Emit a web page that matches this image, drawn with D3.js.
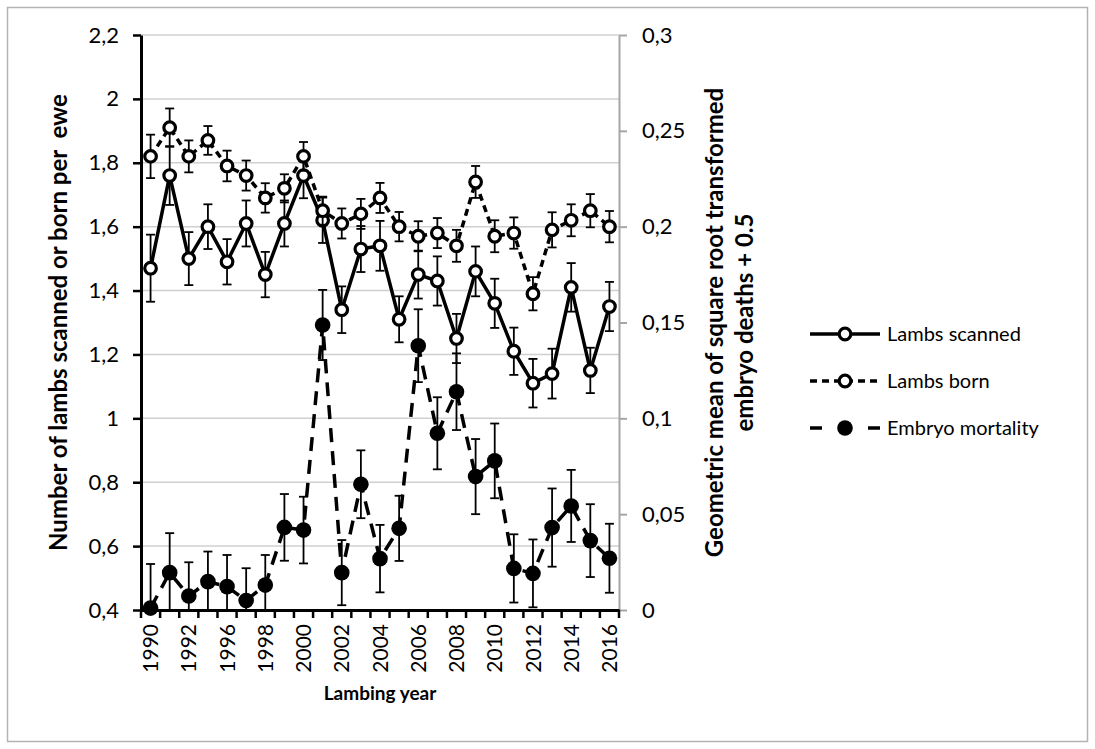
<!DOCTYPE html>
<html>
<head>
<meta charset="utf-8">
<script src="https://cdn.jsdelivr.net/npm/d3@7"></script>
<style>
  body { margin: 0; background: #fff; }
  svg { display: block; }
  text { font-family: Lato, "Open Sans", sans-serif; fill: #000; }
</style>
</head>
<body>
<svg id="chart" width="1095" height="749"></svg>
<script>
// Lambing years recorded (two seasons are absent from the record)
const years = [1990, 1991, 1992, 1994, 1996, 1997, 1998, 1999, 2000, 2001, 2002, 2003,
               2004, 2005, 2006, 2007, 2008, 2009, 2010, 2011, 2012, 2013, 2014, 2015, 2016];

// Lambs scanned per ewe (mean and standard error)
const scanned    = [1.47, 1.76, 1.50, 1.60, 1.49, 1.61, 1.45, 1.61, 1.76, 1.62, 1.34, 1.53,
                    1.54, 1.31, 1.45, 1.43, 1.25, 1.46, 1.36, 1.21, 1.11, 1.14, 1.41, 1.15, 1.35];
const scannedErr = [0.105, 0.092, 0.083, 0.070, 0.071, 0.072, 0.071, 0.072, 0.071, 0.071, 0.073, 0.072,
                    0.078, 0.072, 0.075, 0.077, 0.077, 0.078, 0.077, 0.074, 0.076, 0.078, 0.076, 0.071, 0.077];

// Lambs born per ewe (mean and standard error)
const born    = [1.82, 1.91, 1.82, 1.87, 1.79, 1.76, 1.69, 1.72, 1.82, 1.65, 1.61, 1.64,
                 1.69, 1.60, 1.57, 1.58, 1.54, 1.74, 1.57, 1.58, 1.39, 1.59, 1.62, 1.65, 1.60];
const bornErr = [0.068, 0.060, 0.050, 0.045, 0.048, 0.047, 0.046, 0.044, 0.045, 0.044, 0.047, 0.047,
                 0.047, 0.046, 0.047, 0.047, 0.050, 0.050, 0.050, 0.049, 0.052, 0.055, 0.050, 0.052, 0.049];

// Embryo mortality (secondary axis), geometric mean and standard error
const embryo    = [0.001, 0.0195, 0.0073, 0.0148, 0.0122, 0.0049, 0.013, 0.0431, 0.0417, 0.1487, 0.0195, 0.0656,
                   0.0268, 0.0426, 0.1379, 0.0922, 0.1139, 0.0696, 0.0778, 0.0217, 0.0191, 0.0430, 0.0543, 0.0362, 0.0270];
const embryoErr = [0.023, 0.0206, 0.0176, 0.0157, 0.0165, 0.0169, 0.0157, 0.0174, 0.0174, 0.0183, 0.017, 0.0177,
                   0.0176, 0.017, 0.019, 0.0188, 0.020, 0.0196, 0.0195, 0.0178, 0.0177, 0.0204, 0.0188, 0.019, 0.018];

// Axis ticks
const leftTicks  = [0.4, 0.6, 0.8, 1.0, 1.2, 1.4, 1.6, 1.8, 2.0, 2.2];
const rightTicks = [0, 0.05, 0.1, 0.15, 0.2, 0.25, 0.3];
const labelledYears = years.filter((d, i) => i % 2 === 0);

const seriesNames = ["Lambs scanned", "Lambs born", "Embryo mortality"];

const svg = d3.select("#chart");
const W = 1095, H = 749;
const plot = { left: 141, right: 619, top: 35, bottom: 610 };

// Outer chart frame
svg.append("rect")
  .attr("x", 7.5).attr("y", 7.5)
  .attr("width", W - 15).attr("height", H - 15)
  .attr("fill", "#fff").attr("stroke", "#b3b3b3").attr("stroke-width", 1.5);

const x  = d3.scaleBand().domain(years).range([plot.left, plot.right]);
const yL = d3.scaleLinear().domain([0.4, 2.2]).range([plot.bottom, plot.top]);
const yR = d3.scaleLinear().domain([0, 0.3]).range([plot.bottom, plot.top]);
const cx = d => x(d) + x.bandwidth() / 2;

const locale = d3.formatLocale({ decimal: ",", thousands: " ", grouping: [3], currency: ["", ""] });
const fmt = locale.format(".2~f");

// Horizontal gridlines at the primary ticks
svg.append("g").selectAll("line").data(leftTicks).join("line")
  .attr("x1", plot.left).attr("x2", plot.right)
  .attr("y1", d => yL(d)).attr("y2", d => yL(d))
  .attr("stroke", "#d0d0d0").attr("stroke-width", 1.5);

// Clip region for error bars
svg.append("defs").append("clipPath").attr("id", "plotClip")
  .append("rect").attr("x", plot.left - 10).attr("y", plot.top)
  .attr("width", plot.right - plot.left + 20).attr("height", plot.bottom - plot.top);

// Right (secondary) axis
const rightAxis = svg.append("g")
  .attr("transform", `translate(${plot.right},0)`)
  .call(d3.axisRight(yR).tickValues(rightTicks).tickFormat(fmt).tickSize(8).tickSizeOuter(0).tickPadding(15));
rightAxis.select(".domain").attr("stroke", "#a6a6a6").attr("stroke-width", 2);
rightAxis.selectAll(".tick line").attr("stroke", "#a6a6a6").attr("stroke-width", 2);
rightAxis.selectAll(".tick text").style("font-size", "22px").attr("fill", "#000");

function drawSeries(values, errs, yScale, opts) {
  const g = svg.append("g");
  const line = d3.line().x((d, i) => cx(years[i])).y(d => yScale(d));
  g.append("path").datum(values)
    .attr("d", line)
    .attr("fill", "none").attr("stroke", "#000").attr("stroke-width", 3.5)
    .attr("stroke-dasharray", opts.dash || null)
    .attr("stroke-linejoin", "round");
  const eb = g.append("g").attr("clip-path", "url(#plotClip)")
    .selectAll("g").data(values).join("g")
    .attr("stroke", "#000").attr("stroke-width", 1.8);
  eb.append("line")
    .attr("x1", (d, i) => cx(years[i])).attr("x2", (d, i) => cx(years[i]))
    .attr("y1", (d, i) => yScale(d - errs[i])).attr("y2", (d, i) => yScale(d + errs[i]));
  eb.append("line")
    .attr("x1", (d, i) => cx(years[i]) - 4.5).attr("x2", (d, i) => cx(years[i]) + 4.5)
    .attr("y1", (d, i) => yScale(d + errs[i])).attr("y2", (d, i) => yScale(d + errs[i]));
  eb.append("line")
    .attr("x1", (d, i) => cx(years[i]) - 4.5).attr("x2", (d, i) => cx(years[i]) + 4.5)
    .attr("y1", (d, i) => yScale(d - errs[i])).attr("y2", (d, i) => yScale(d - errs[i]));
  g.append("g").selectAll("circle").data(values).join("circle")
    .attr("cx", (d, i) => cx(years[i])).attr("cy", d => yScale(d))
    .attr("r", opts.filled ? 7.8 : 5.8)
    .attr("fill", opts.filled ? "#000" : "#fff")
    .attr("stroke", "#000").attr("stroke-width", opts.filled ? 0 : 3.2);
}

drawSeries(scanned, scannedErr, yL, { dash: null, filled: false });
drawSeries(born, bornErr, yL, { dash: "7,5", filled: false });
drawSeries(embryo, embryoErr, yR, { dash: "14,9", filled: true });

// Left (primary) axis
const leftAxis = svg.append("g")
  .attr("transform", `translate(${plot.left},0)`)
  .call(d3.axisLeft(yL).tickValues(leftTicks).tickFormat(fmt).tickSize(8).tickSizeOuter(0).tickPadding(14));
leftAxis.select(".domain").attr("stroke", "#000").attr("stroke-width", 3);
leftAxis.selectAll(".tick line").attr("stroke", "#000").attr("stroke-width", 2.5);
leftAxis.selectAll(".tick text").style("font-size", "22px").attr("fill", "#000");

// Bottom category axis: ticks at category boundaries, labels on every other year
const bottomAxis = svg.append("g")
  .attr("transform", `translate(0,${plot.bottom})`)
  .call(d3.axisBottom(x).tickValues(labelledYears).tickSize(0).tickSizeOuter(0));
bottomAxis.select(".domain").attr("stroke", "#000").attr("stroke-width", 3);
bottomAxis.selectAll(".tick text")
  .style("font-size", "21px").attr("fill", "#000")
  .attr("transform", "rotate(-90)")
  .attr("text-anchor", "end")
  .attr("x", -14).attr("y", 0).attr("dy", "0.36em");
const boundaries = years.map(d => x(d)).concat([x.range()[1]]);
bottomAxis.append("g").selectAll("line").data(boundaries).join("line")
  .attr("x1", d => d).attr("x2", d => d)
  .attr("y1", 0).attr("y2", 8)
  .attr("stroke", "#000").attr("stroke-width", 2.5);

// Axis titles
const midY = (plot.top + plot.bottom) / 2;
svg.append("text")
  .attr("transform", `translate(67,${midY}) rotate(-90)`)
  .attr("text-anchor", "middle")
  .style("font-size", "24px").style("font-weight", "bold")
  .style("white-space", "pre")
  .text("Number of lambs scanned or born per  ewe");

svg.append("text")
  .attr("transform", `translate(723,${midY}) rotate(-90)`)
  .attr("text-anchor", "middle")
  .style("font-size", "24px").style("font-weight", "bold")
  .text("Geometric mean of square root transformed");
svg.append("text")
  .attr("transform", `translate(753,${midY}) rotate(-90)`)
  .attr("text-anchor", "middle")
  .style("font-size", "24px").style("font-weight", "bold")
  .text("embryo deaths + 0.5");

svg.append("text")
  .attr("x", (plot.left + plot.right) / 2).attr("y", 700)
  .attr("text-anchor", "middle")
  .style("font-size", "19px").style("font-weight", "bold")
  .text("Lambing year");

// Legend
const legend = svg.append("g");
const legY = [334, 381, 428];
const lx0 = 810, lx1 = 880, lmx = 845;
// solid
legend.append("line").attr("x1", lx0).attr("x2", lx1).attr("y1", legY[0]).attr("y2", legY[0])
  .attr("stroke", "#000").attr("stroke-width", 3.5);
legend.append("circle").attr("cx", lmx).attr("cy", legY[0]).attr("r", 5.8)
  .attr("fill", "#fff").attr("stroke", "#000").attr("stroke-width", 3.2);
// short dashes
legend.append("line").attr("x1", lx0).attr("x2", lx1).attr("y1", legY[1]).attr("y2", legY[1])
  .attr("stroke", "#000").attr("stroke-width", 3.5).attr("stroke-dasharray", "7,5");
legend.append("circle").attr("cx", lmx).attr("cy", legY[1]).attr("r", 5.8)
  .attr("fill", "#fff").attr("stroke", "#000").attr("stroke-width", 3.2);
// long dashes
legend.append("line").attr("x1", lx0).attr("x2", lx0 + 12).attr("y1", legY[2]).attr("y2", legY[2])
  .attr("stroke", "#000").attr("stroke-width", 3.5);
legend.append("line").attr("x1", lx1 - 12).attr("x2", lx1).attr("y1", legY[2]).attr("y2", legY[2])
  .attr("stroke", "#000").attr("stroke-width", 3.5);
legend.append("circle").attr("cx", lmx).attr("cy", legY[2]).attr("r", 7.8).attr("fill", "#000");

legend.selectAll("text").data(seriesNames).join("text")
  .attr("x", 887).attr("y", (d, i) => legY[i]).attr("dy", "0.35em")
  .style("font-size", "20px")
  .text(d => d);
</script>
</body>
</html>
